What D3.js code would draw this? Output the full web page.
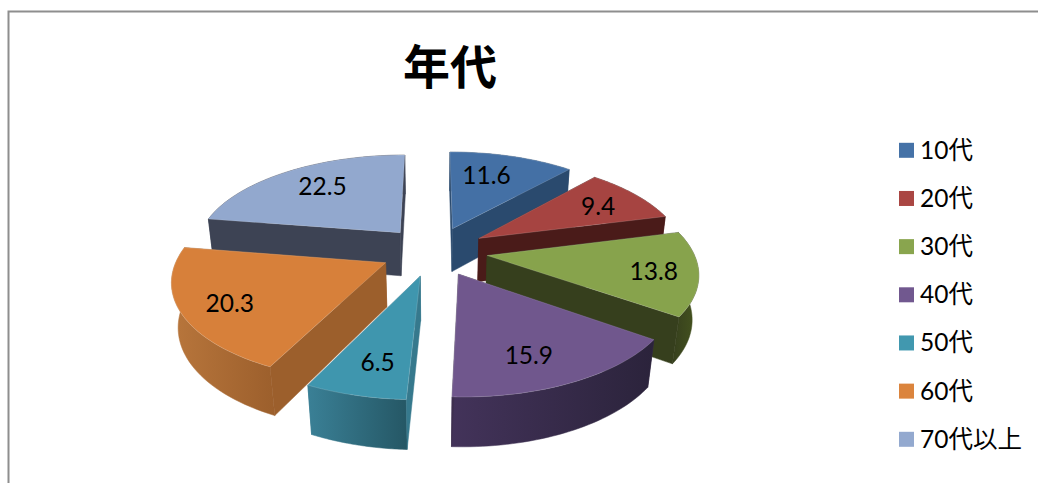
<!DOCTYPE html>
<html>
<head>
<meta charset="utf-8">
<script src="https://d3js.org/d3.v7.min.js"></script>
<style>
  body { margin: 0; background: #fff; }
  text { font-family: Lato, "Noto Sans CJK JP", sans-serif; fill: #000; }
</style>
</head>
<body>
<div id="chart"></div>
<script>
const titleText = '年代';
const categories = ['10代', '20代', '30代', '40代', '50代', '60代', '70代以上'];
const values = [11.6, 9.4, 13.8, 15.9, 6.5, 20.3, 22.5];
const topColors = ['#4572A7', '#AA4643', '#89A54E', '#71588F', '#4198AF', '#DB843D', '#93A9CF'];
const topFaceColors = ['#4470A5', '#A64441', '#87A34C', '#70578D', '#3F96AE', '#D7803A', '#92A8CE'];
const wallColors = ['#2A4A6E', '#4A1B19', '#363F1D', '#3F304F', '#36798D', '#9C5F2C', '#3D4354'];
const rimLeftColors = ['#2A4A6E', '#4A1B19', '#363F1D', '#43335A', '#3A8096', '#B8763C', '#3D4354'];
const rimRightColors = ['#2A4A6E', '#4A1B19', '#46551F', '#2B233B', '#255765', '#9C5F2C', '#3D4354'];

const width = 1038, height = 483;

// perspective model of the tilted pie, fitted by eye
const explode = 0.26, labelR = 0.75, persp = 0.158, depthPersp = 0.025, thick = 45;
const xScale = d3.scaleLinear().domain([-1, 1]).range([434 - 206, 434 + 206]);
const yScale = d3.scaleLinear().domain([-1, 1]).range([251 + 95.3, 251 - 95.3]);
// excel nudges its labels a bit off the bisector
const labelNudgeX = [-12, 0, 9, -12, 4, -5, 9];
const labelNudgeY = [2, 1, 2, 3, 1, 4, 0];

const project = (u, v, bottom) => {
    const den = 1 + persp * v + (bottom ? depthPersp : 0);
    return [
        xScale(0) + (xScale(u) - xScale(0)) / den,
        yScale(0) + (yScale(v) - yScale(0) + (bottom ? thick : 0)) / den
    ];
};

const svg = d3.select('#chart').append('svg')
    .attr('width', width)
    .attr('height', height)
    .style('display', 'block');

// chart frame, cut by the picture edge
svg.append('path')
    .attr('d', d3.line()([[8.5, height], [8.5, 11.5], [width, 11.5]]))
    .attr('fill', 'none')
    .attr('stroke', '#8e8e8e')
    .attr('stroke-width', 2);

svg.append('text')
    .attr('x', 450)
    .attr('y', 84)
    .attr('text-anchor', 'middle')
    .style('font-size', '47px')
    .style('font-weight', 'bold')
    .text(titleText);

const pie = d3.pie().sort(null).value(d => d.value);
const slices = pie(values.map((value, i) => ({ value, i }))).map(s => {
    const mid = (s.startAngle + s.endAngle) / 2;
    return {
        i: s.data.i,
        value: s.value,
        start: s.startAngle,
        end: s.endAngle,
        mid,
        ou: explode * Math.sin(mid),
        ov: explode * Math.cos(mid)
    };
});

const defs = svg.append('defs');
slices.forEach(s => {
    const g = defs.append('linearGradient').attr('id', 'rim' + s.i);
    g.append('stop').attr('offset', '0%').attr('stop-color', rimLeftColors[s.i]);
    g.append('stop').attr('offset', '100%').attr('stop-color', rimRightColors[s.i]);
});

const line = d3.line();
const rimPoints = (s, bottom) => d3.range(0, 41).map(k => {
    const a = s.start + (s.end - s.start) * k / 40;
    return project(s.ou + Math.sin(a), s.ov + Math.cos(a), bottom);
});
const wall = (s, a) => line([
    project(s.ou, s.ov, false),
    project(s.ou + Math.sin(a), s.ov + Math.cos(a), false),
    project(s.ou + Math.sin(a), s.ov + Math.cos(a), true),
    project(s.ou, s.ov, true)
]) + 'Z';

// back slices first so the nearer ones paint over them
const order = slices.slice().sort((a, b) => d3.descending(Math.cos(a.mid), Math.cos(b.mid)));

order.forEach(s => {
    const g = svg.append('g');
    const angles = [s.start, s.end].sort((a, b) => d3.descending(Math.cos(a), Math.cos(b)));

    g.append('path').attr('d', wall(s, angles[0]))
        .attr('fill', wallColors[s.i])
        .attr('stroke', wallColors[s.i])
        .attr('stroke-width', 0.5);
    g.append('path')
        .attr('d', line(rimPoints(s, false).concat(rimPoints(s, true).reverse())) + 'Z')
        .attr('fill', `url(#rim${s.i})`)
        .attr('stroke', `url(#rim${s.i})`)
        .attr('stroke-width', 0.5);
    g.append('path').attr('d', wall(s, angles[1]))
        .attr('fill', wallColors[s.i])
        .attr('stroke', wallColors[s.i])
        .attr('stroke-width', 0.5);

    g.append('path')
        .attr('d', line([project(s.ou, s.ov, false)].concat(rimPoints(s, false))) + 'Z')
        .attr('fill', topFaceColors[s.i])
        .attr('stroke', '#fff')
        .attr('stroke-opacity', 0.2)
        .attr('stroke-width', 0.8)
        .attr('stroke-linejoin', 'round');
});

// data labels go on top of every slice
slices.forEach(s => {
    const p = project(s.ou + labelR * Math.sin(s.mid), s.ov + labelR * Math.cos(s.mid), false);
    svg.append('text')
        .attr('x', p[0] + labelNudgeX[s.i])
        .attr('y', p[1] + 9 + labelNudgeY[s.i])
        .attr('text-anchor', 'middle')
        .style('font-size', '24.5px')
        .text(s.value);
});

const legendY = d3.scalePoint().domain(categories).range([150.3, 439.3]);
const legend = svg.append('g').selectAll('g')
    .data(categories)
    .enter()
    .append('g')
    .attr('transform', d => `translate(899,${legendY(d)})`);
legend.append('rect')
    .attr('y', -7.5)
    .attr('width', 15)
    .attr('height', 15)
    .attr('fill', (d, i) => topColors[i]);
legend.append('text')
    .attr('x', 21)
    .attr('y', 8.5)
    .style('font-size', '24.5px')
    .text(d => d);
</script>
</body>
</html>
